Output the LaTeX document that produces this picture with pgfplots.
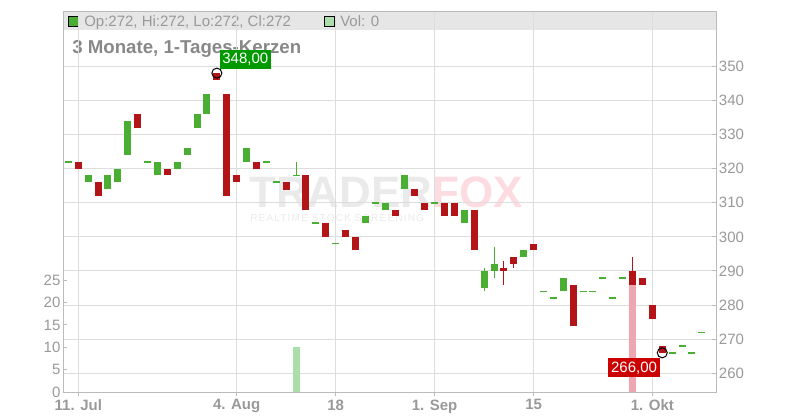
\documentclass[border=0pt]{standalone}
\usepackage{pgfplots}
\usepackage{pgfplotstable}
\pgfplotsset{compat=1.18}
\usepackage{fontspec}
\setmainfont{Liberation Sans}
\definecolor{cgreen}{RGB}{74,174,51}
\definecolor{cred}{RGB}{178,20,24}
\definecolor{vgreen}{RGB}{172,222,172}
\definecolor{vred}{RGB}{240,166,176}
\definecolor{gridc}{RGB}{221,221,221}
\definecolor{framec}{RGB}{187,187,187}
\definecolor{txtc}{RGB}{153,153,153}
\definecolor{titc}{RGB}{136,136,136}
\definecolor{hdr}{RGB}{230,230,230}
\definecolor{wmgray}{RGB}{234,234,234}
\definecolor{wmpink}{RGB}{252,220,224}
\definecolor{lblgreen}{RGB}{0,153,0}
\definecolor{lblred}{RGB}{204,0,0}
\newcommand\tickfont{\fontsize{11.25}{13}\selectfont}

% green candles: x o h l c
\pgfplotstableread{
x o h l c
1 316 318 316 318
3 314 318 314 318
4 316 320 316 320
5 324 334 324 334
8 318 322 318 322
10 320 322 320 322
11 324 326 324 326
12 332 336 332 336
13 336 342 336 342
17 322 326 322 326
29 304 306 304 306
31 308 310 308 310
33 314 318 314 318
39 304 308 304 308
41 285 291 284 290
42 290 297 288 292
45 294 296 294 296
49 284 288 284 288
}\greentab
% red candles: x o h l c
\pgfplotstableread{
x o h l c
0 322 322 320 320
2 316 316 312 312
6 336 336 332 332
9 320 320 318 318
14 348 348 346 346
15 342 342 312 312
16 318 318 316 316
18 322 322 320 320
21 316 316 313.6 313.6
23 318 318 308 308
25 304 304 300 300
27 302 302 300 300
28 300 300 296 296
32 308 308 306 306
34 314 314 312 312
35 310 310 308 308
37 310 310 306 306
38 310 310 306 306
40 308 308 296 296
43 291 293 286 290
44 294 294 291 292
46 298 298 296 296
50 286 286 274 274
56 290 294 286 286
57 288 288 286 286
58 280 280 276 276
59 268 268 266 266
}\redtab
% unchanged days (open = close)
\pgfplotstableread{
x o h l c
-1 322 322 322 322
7 322 322 322 322
19 322 322 322 322
20 316 316 316 316
22 318 322 318 318
24 304 304 304 304
26 298 298 298 298
30 310 310 310 310
36 310 310 310 310
47 284 284 284 284
48 282 282 282 282
51 284 284 284 284
52 284 284 284 284
53 288 288 288 288
54 282 282 282 282
55 288 288 288 288
60 266 266 266 266
61 268 268 268 268
62 266 266 266 266
63 272 272 272 272
}\dashtab

\pgfplotsset{base/.style={at={(47.475pt,20.775pt)}, anchor=south west, scale only axis,
  width=489.525pt, height=285.225pt, xmin=-1.516, xmax=64.43},
  candle/.style={draw=none, mark=none, error bars/.cd, y dir=plus, y explicit, error mark=none,
  error bar style={draw=#1, line width=5.25pt}},
  wick/.style={draw=none, mark=none, error bars/.cd, y dir=plus, y explicit, error mark=none,
  error bar style={draw=#1, line width=0.75pt}}}

\begin{document}
\begin{tikzpicture}
\begin{scope}[x=0.75pt,y=0.75pt]
\path[use as bounding box] (0,0) rectangle (800,420);
\fill[hdr] (63.3,390) rectangle (716,408);
% watermark
\node[anchor=base west, inner sep=0pt, text=wmgray, font=\bfseries\fontsize{33}{33}\selectfont] at (249,212) {TRADER};
\node[anchor=base west, inner sep=0pt, text=wmpink, font=\bfseries\fontsize{33}{33}\selectfont] at (432,212) {FOX};
\node[anchor=base west, inner sep=0pt, text=wmgray, font=\fontsize{7.5}{8}\selectfont\addfontfeatures{LetterSpace=12}] at (250,198) {REALTIME STOCK SCREENING};
% header legend
\filldraw[fill=cgreen, draw=black, line width=0.75pt] (68.3,393.3) rectangle (78.3,403.3);
\node[anchor=base west, inner sep=0pt, text=txtc, font=\tickfont] at (84,393.5) {Op:272, Hi:272, Lo:272, Cl:272};
\filldraw[fill=vgreen, draw=black, line width=0.75pt] (324.3,393.3) rectangle (334.3,403.3);
\node[anchor=base west, inner sep=0pt, text=txtc, font=\tickfont] at (340,393.5) {Vol: 0};
% title
\node[anchor=base west, inner sep=0pt, text=titc, font=\bfseries\fontsize{14}{16}\selectfont] at (72,366) {3 Monate, 1-Tages-Kerzen};
\end{scope}

% grid, frame, price ticks
\begin{axis}[base, ymin=254.43, ymax=365.92,
  axis line style={draw=framec, line width=0.75pt},
  xtick={0,16,26,36,46,58}, xticklabels={11. Jul,4. Aug,18,1. Sep,15,1. Okt},
  ytick={260,270,...,350},
  xtick pos=bottom, ytick pos=right,
  xtick align=outside, ytick align=inside,
  major tick length=2.8pt,
  tick style={draw=framec, line width=0.75pt},
  xmajorgrids, ymajorgrids, grid style={draw=gridc, line width=0.8pt},
  xticklabel style={font=\bfseries\tickfont, text=txtc, inner sep=1pt, yshift=-1.5pt},
  yticklabel style={font=\tickfont, text=txtc, inner sep=2pt},
  /pgf/number format/assume math mode=true]
\end{axis}

% volume
\begin{axis}[base, ymin=0, ymax=84.7,
  axis x line=none, axis y line*=left,
  axis line style={draw=framec, line width=0.75pt},
  ytick={0,5,...,25}, ytick align=inside, major tick length=2.8pt,
  tick style={draw=framec, line width=0.75pt},
  yticklabel style={font=\tickfont, text=txtc, inner sep=2pt},
  /pgf/number format/assume math mode=true]
\addplot[ybar, bar width=5.25pt, bar shift=0pt, fill=vgreen, draw=none] coordinates {(22,10)};
\addplot[ybar, bar width=5.25pt, bar shift=0pt, fill=vred, draw=none] coordinates {(56,25)};
\end{axis}

% candles
\begin{axis}[base, ymin=254.43, ymax=365.92, hide axis]
\addplot[wick=cgreen] table[x=x, y=l, y error plus expr=\thisrow{h}-\thisrow{l}] {\greentab};
\addplot[wick=cred] table[x=x, y=l, y error plus expr=\thisrow{h}-\thisrow{l}] {\redtab};
\addplot[wick=cgreen] table[x=x, y=l, y error plus expr=\thisrow{h}-\thisrow{l}] {\dashtab};
\addplot[candle=cgreen] table[x=x, y=o, y error plus expr=\thisrow{c}-\thisrow{o}] {\greentab};
\addplot[candle=cred] table[x=x, y=c, y error plus expr=\thisrow{o}-\thisrow{c}] {\redtab};
\addplot[only marks, mark=-, mark size=2.625pt, mark options={draw=cgreen, line width=1.2pt}]
  table[x=x, y=o] {\dashtab};
\addplot[only marks, mark=o, mark size=3.75pt, mark options={draw=black, line width=0.75pt, fill=none}]
  coordinates {(14,348) (59,266)};
\node[anchor=south west, fill=lblgreen, text=white, font=\tickfont, inner sep=0pt,
  minimum width=38.5pt, minimum height=14pt, xshift=1.9pt, yshift=3.2pt] at (axis cs:14,348) {348,00};
\node[anchor=north east, fill=lblred, text=white, font=\tickfont, inner sep=0pt,
  minimum width=38.5pt, minimum height=14pt, xshift=-1.7pt, yshift=-4pt] at (axis cs:59,266) {266,00};
\end{axis}
\end{tikzpicture}
\end{document}
